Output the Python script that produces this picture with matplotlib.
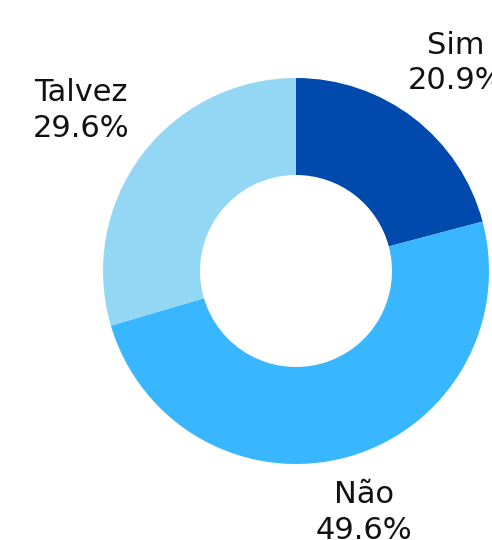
import matplotlib.pyplot as plt
import numpy as np

categories = ['Sim', 'Não', 'Talvez']
shares = [20.9, 49.6, 29.6]
colors = ['#004AAD', '#38B6FF', '#93D7F5']
label_dist = [1.36, 1.30, 1.39]

fig = plt.figure(figsize=(4.92, 5.40), dpi=100)
ax = fig.add_axes([0, 0, 1, 1])

cx, cy, r = 296, 269, 193
wedges, _ = ax.pie(shares, colors=colors, startangle=90, counterclock=False,
                   radius=r, center=(cx, cy), wedgeprops=dict(width=97, linewidth=0),
                   frame=True)
ax.set_xlim(0, 492)
ax.set_ylim(0, 540)
ax.set_aspect('equal')
ax.axis('off')

# labels sit on the radial through each wedge's middle
for w, cat, val, d in zip(wedges, categories, shares, label_dist):
    ang = np.deg2rad((w.theta1 + w.theta2) / 2)
    x = cx + r * d * np.cos(ang)
    y = cy + r * d * np.sin(ang)
    ax.text(x, y, f'{cat}\n{val}%', ha='center', va='center', fontsize=22,
            color='#111111', linespacing=1.3, multialignment='center',
            clip_on=False)

fig.savefig('out.png', dpi=100)
